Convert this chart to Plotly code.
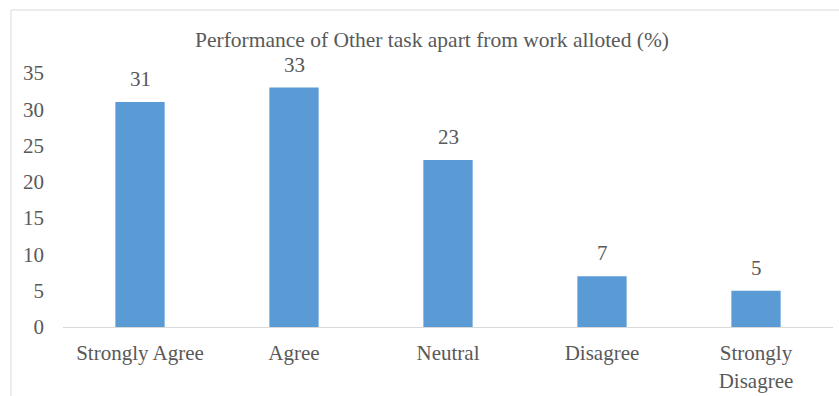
import plotly.graph_objects as go

categories = ["Strongly Agree", "Agree", "Neutral", "Disagree", "Strongly<br>Disagree"]
values = [31, 33, 23, 7, 5]
y_ticks = [0, 5, 10, 15, 20, 25, 30, 35]

W, H = 839, 396
ML, MR, MT, MB = 63, 6, 73, 69
plot_w = W - ML - MR
plot_h = H - MT - MB

text_color = "#595959"
font_family = "Liberation Serif"
font_size = 21

fig = go.Figure()
fig.add_trace(go.Bar(
    x=categories,
    y=values,
    marker=dict(color="#5B9BD5", line=dict(width=0)),
    hoverinfo="skip",
))

# value labels above each bar
for c, v in zip(categories, values):
    fig.add_annotation(
        x=c, y=v, text=str(v), showarrow=False,
        yanchor="bottom", yshift=9,
        font=dict(family=font_family, size=font_size, color=text_color),
    )

# chart title
fig.add_annotation(
    xref="paper", yref="paper",
    x=(432 - ML) / plot_w, y=(H - MB - 40) / plot_h,
    text="Performance of Other task apart from work alloted (%)",
    showarrow=False, xanchor="center", yanchor="middle",
    font=dict(family=font_family, size=21.5, color=text_color),
)

# outer chart border (top and left edges visible)
fig.add_shape(
    type="line", xref="paper", yref="paper",
    x0=(11 - ML) / plot_w, x1=(W + 5 - ML) / plot_w,
    y0=(H - MB - 10) / plot_h, y1=(H - MB - 10) / plot_h,
    line=dict(color="#d9d9d9", width=1),
)
fig.add_shape(
    type="line", xref="paper", yref="paper",
    x0=(11 - ML) / plot_w, x1=(11 - ML) / plot_w,
    y0=(H - MB - 10) / plot_h, y1=-(MB + 5) / plot_h,
    line=dict(color="#d9d9d9", width=1),
)

fig.update_layout(
    width=W, height=H,
    margin=dict(l=ML, r=MR, t=MT, b=MB, pad=0, autoexpand=False),
    paper_bgcolor="white", plot_bgcolor="white",
    showlegend=False,
    bargap=0.68,
    font=dict(family=font_family, size=font_size, color=text_color),
)
fig.update_xaxes(
    showline=True, linecolor="#d9d9d9", linewidth=1,
    showgrid=False, ticks="", ticklabelstandoff=7, automargin=False,
    tickfont=dict(family=font_family, size=font_size, color=text_color),
    fixedrange=True,
)
fig.update_yaxes(
    range=[0, 35], tickvals=y_ticks,
    showline=False, showgrid=False, zeroline=False,
    ticks="", ticklabelstandoff=18, automargin=False,
    tickfont=dict(family=font_family, size=font_size, color=text_color),
    fixedrange=True,
)

fig.write_html("out.html", config={"displayModeBar": False})
